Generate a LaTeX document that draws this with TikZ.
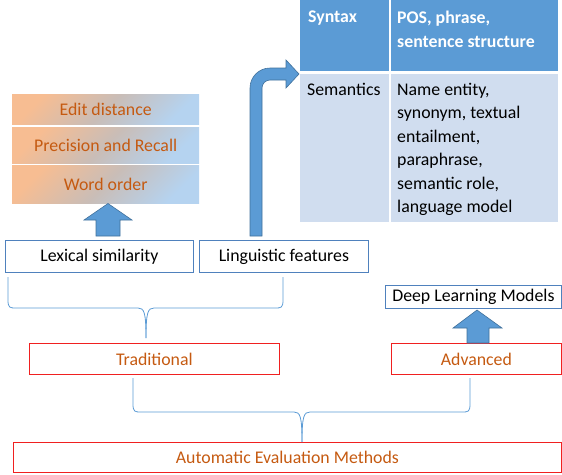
\documentclass[tikz,border=0pt]{standalone}
\usepackage{fontspec}
\setmainfont{Carlito}
\definecolor{bfill}{HTML}{5B9BD5}
\definecolor{bline}{HTML}{41719C}
\definecolor{boxline}{HTML}{4F81BD}
\definecolor{redline}{HTML}{F02020}
\definecolor{otext}{HTML}{C55A11}
\definecolor{tbody}{HTML}{D0DDEF}
\definecolor{gorange}{HTML}{F7BD92}
\definecolor{gblue}{HTML}{B5D3F0}
\begin{document}
\begin{tikzpicture}[x=1pt,y=-1pt,
  every node/.style={font=\fontsize{17.8}{23.4}\selectfont, inner sep=0pt},
  gradbox/.style={minimum width=187pt, top color=gorange, bottom color=gblue, middle color=gorange!50!gblue!85!gray, shading angle=45, text=otext},
  bluebox/.style={draw=boxline, line width=0.8pt, fill=white},
  redbox/.style={draw=redline, line width=0.8pt, text=otext},
  blockarrow/.style={fill=bfill, draw=bline, line width=0.6pt},
  bracestyle/.style={draw=bfill, line width=0.8pt},
  thead/.style={fill=bfill},
  tcell/.style={fill=tbody},
  ttext/.style={anchor=north west, align=left}
]
\useasboundingbox (0,0) rectangle (562,474);

% gradient boxes
\node[gradbox, minimum height=30pt, anchor=north west] (ed) at (12,94) {Edit distance};
\node[gradbox, minimum height=36pt, anchor=north west] (pr) at (12,127) {Precision and Recall};
\node[gradbox, minimum height=38pt, anchor=north west] (wo) at (12,165) {Word order};

% lower blue boxes
\node[bluebox, minimum width=188pt, minimum height=32pt, anchor=north west] (lex) at (5,240) {Lexical similarity};
\node[bluebox, minimum width=169pt, minimum height=32pt, anchor=north west] (ling) at (199,240) {Linguistic features};
\node[bluebox, minimum width=176pt, minimum height=23pt, anchor=north west] (dlm) at (385,285) {Deep Learning Models};

% red boxes
\node[redbox, minimum width=250pt, minimum height=31pt, anchor=north west] (trad) at (29,343) {Traditional};
\node[redbox, minimum width=170pt, minimum height=31pt, anchor=north west] (adv) at (391,343) {Advanced};
\node[redbox, minimum width=548pt, minimum height=30pt, anchor=north west] (auto) at (13,442) {Automatic Evaluation Methods};

% table
\fill[thead] (300,0) rectangle (389,71);
\fill[thead] (391,0) rectangle (558,71);
\fill[tcell] (300,74) rectangle (389,222);
\fill[tcell] (391,74) rectangle (558,222);
\node[ttext, text=white, font=\fontsize{17.8}{23.4}\selectfont\bfseries] (syn) at (308,11) {Syntax};
\node[ttext, text=white, font=\fontsize{17.8}{23.4}\selectfont\bfseries] (synd) at (397,11) {POS, phrase,\\sentence structure};
\node[ttext] (sem) at (307,83) {Semantics};
\node[ttext] (semd) at (397,83) {Name entity,\\synonym, textual\\entailment,\\paraphrase,\\semantic role,\\language model};

% up arrow: lexical -> word order
\draw[blockarrow] (96,236) -- (96,220) -- (84,220) -- (108,203.5) -- (132,220) -- (120,220) -- (120,236) -- cycle;
% up arrow: advanced -> deep learning
\draw[blockarrow] (467,343) -- (467,328) -- (453,328) -- (477,310) -- (502,328) -- (489,328) -- (489,343) -- cycle;
% bent arrow: linguistic -> table
\draw[blockarrow] (250,236) -- (250,88) arc (180:270:20) -- (286,68) -- (286,60) -- (299,74) -- (286,88) -- (286,80) -- (270,80) arc (270:180:8) -- (262,236) -- cycle;

% braces
\coordinate (b1) at (146,338);
\draw[bracestyle] (8,277) -- (8,300) .. controls (8,308) and (10,308) .. (16,308) -- (138,308) .. controls (144,308) and (146,312) .. (b1);
\draw[bracestyle] (283,277) -- (283,300) .. controls (283,308) and (281,308) .. (275,308) -- (154,308) .. controls (148,308) and (146,312) .. (b1);
\coordinate (b2) at (302,442);
\draw[bracestyle] (133,378) -- (133,404) .. controls (133,412) and (135,412) .. (141,412) -- (294,412) .. controls (300,412) and (302,416) .. (b2);
\draw[bracestyle] (470,378) -- (470,404) .. controls (470,412) and (468,412) .. (462,412) -- (310,412) .. controls (304,412) and (302,416) .. (b2);
\end{tikzpicture}
\end{document}
